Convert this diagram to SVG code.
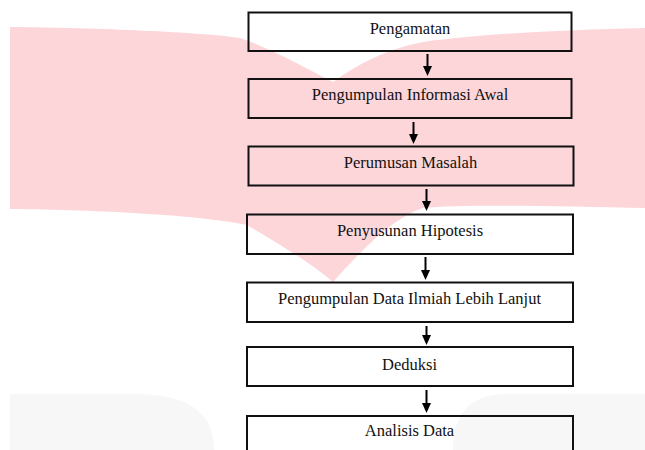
<svg xmlns="http://www.w3.org/2000/svg" width="645" height="450" viewBox="0 0 645 450">
<style>
.box{fill:none;stroke:#111;stroke-width:2}
.lbl{font-family:"Liberation Serif","Times New Roman",serif;font-size:16.5px;fill:#111;text-anchor:middle}
.arr{stroke:#000;stroke-width:2;fill:none;marker-end:url(#ah)}
</style>
<defs>
<marker id="ah" viewBox="0 0 10 9" refX="5" refY="4.5" markerWidth="10" markerHeight="9" markerUnits="userSpaceOnUse" orient="auto">
<path d="M0,0 L10,4.5 L0,9 Z" fill="#000"/>
</marker>
</defs>
<rect width="645" height="450" fill="#fff"/>
<g id="watermark">
<path d="M10,27 C100,28 200,32 240,38 C270,48 310,70 333,82 C350,70 380,50 423,42 C480,34 560,30 645,28 L645,208 C560,206 460,204 423,208 C400,215 370,240 333,282 C310,262 280,245 247,225 C200,215 100,210 10,209 Z" fill="#fdd6da"/>
<path d="M10,394 H136 Q214,394 214,450 H10 Z" fill="#f7f7f7"/>
<path d="M453,450 Q453,394 507,394 H645 V450 Z" fill="#f7f7f7"/>
</g>
<g id="connectors">
<line class="arr" x1="427.5" y1="54" x2="427.5" y2="71"/>
<line class="arr" x1="413.5" y1="122" x2="413.5" y2="139"/>
<line class="arr" x1="426.5" y1="189" x2="426.5" y2="206"/>
<line class="arr" x1="425.5" y1="257" x2="425.5" y2="275"/>
<line class="arr" x1="426.5" y1="326" x2="426.5" y2="340"/>
<line class="arr" x1="426.5" y1="390" x2="426.5" y2="408"/>
</g>
<g id="n1"><rect class="box" x="248.5" y="12.5" width="323" height="38.5"/><text class="lbl" x="410" y="34">Pengamatan</text></g>
<g id="n2"><rect class="box" x="248.5" y="79" width="323" height="39"/><text class="lbl" x="410" y="100">Pengumpulan Informasi Awal</text></g>
<g id="n3"><rect class="box" x="248.5" y="146.5" width="325" height="39"/><text class="lbl" x="410.5" y="167.5">Perumusan Masalah</text></g>
<g id="n4"><rect class="box" x="247" y="214.5" width="326" height="39.5"/><text class="lbl" x="410" y="235.5">Penyusunan Hipotesis</text></g>
<g id="n5"><rect class="box" x="247" y="282.5" width="326" height="39.5"/><text class="lbl" x="409.5" y="303.5">Pengumpulan Data Ilmiah Lebih Lanjut</text></g>
<g id="n6"><rect class="box" x="247" y="347" width="326" height="39"/><text class="lbl" x="409.5" y="369.5">Deduksi</text></g>
<g id="n7"><rect class="box" x="247" y="416" width="326" height="40"/><text class="lbl" x="409.5" y="435.5">Analisis Data</text></g>
</svg>
